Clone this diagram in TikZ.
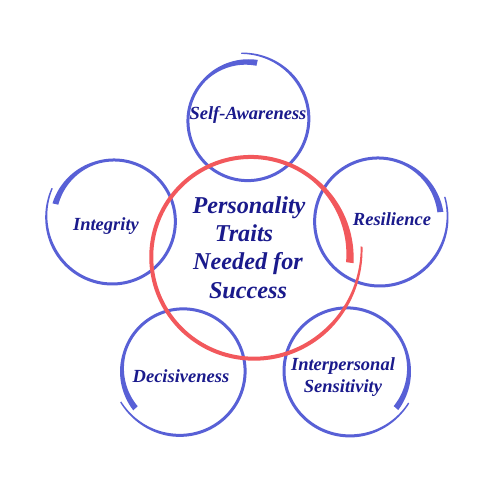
\documentclass[tikz,border=0pt]{standalone}
\usepackage{fontspec}
\setmainfont{Liberation Serif}
\definecolor{ringblue}{RGB}{88,96,214}
\definecolor{ringred}{RGB}{242,88,92}
\definecolor{navy}{RGB}{26,26,140}
% #1 cx, #2 cy, #3 R, #4 start angle, #5 signed sweep, #6 dr start, #7 dr end, #8 thick width, #9 main width
\newcommand\brushring[9]{%
  \begin{scope}[declare function={
      bang(\t)=#4+(#5)*\t;
      brad(\t)=#3+(#6)+((#7)-(#6))*\t^4;
      bw(\t)=#9+((#8)-(#9))*max(0,1-\t/0.15)-0.55*(#9)*max(0,(\t-0.86)/0.14);}]
    \fill plot[domain=0:1,samples=220,variable=\t]
      ({#1+(brad(\t)+bw(\t)/2)*cos(bang(\t))},{#2+(brad(\t)+bw(\t)/2)*sin(bang(\t))})
      -- plot[domain=1:0,samples=220,variable=\t]
      ({#1+(brad(\t)-bw(\t)/2)*cos(bang(\t))},{#2+(brad(\t)-bw(\t)/2)*sin(bang(\t))})
      -- cycle;
  \end{scope}}
\tikzset{
  lab/.style={text=navy,font=\fontsize{18.5}{22}\selectfont\bfseries\itshape,anchor=base,inner sep=0pt},
  biglab/.style={text=navy,font=\fontsize{24.2}{28}\selectfont\bfseries\itshape,anchor=base,inner sep=0pt}
}
\begin{document}
\begin{tikzpicture}[x=1pt,y=-1pt]
\fill[white] (0,0) rectangle (500,500);
\useasboundingbox (0,0) rectangle (500,500);
% blue rings
\begin{scope}[fill=ringblue]
\brushring{247}{121}{63}{-80}{-375}{-4}{5}{6}{3}
\brushring{114}{221}{66}{-164}{372}{-5}{4}{6}{3}
\brushring{378}{221}{67}{-8}{-372}{-4}{4}{6}{3}
\brushring{183}{370}{66}{141}{372}{-5}{4}{6}{3}
\brushring{347}{370}{66}{38}{-370}{-4}{4}{6}{3}
\end{scope}
% red ring
\begin{scope}[fill=ringred]
\brushring{251}{256}{100}{4}{-369}{-1}{11}{7.5}{4}
\end{scope}
% labels
\node[lab] (sa) at (248,119) {Self-Awareness};
\node[lab] (in) at (106,230) {Integrity};
\node[lab] (re) at (392,225) {Resilience};
\node[lab] (de) at (181,382) {Decisiveness};
\node[lab] (ip1) at (343,370) {Interpersonal};
\node[lab] (ip2) at (343,392) {Sensitivity};
\node[biglab] (c1) at (249,213) {Personality};
\node[biglab] (c2) at (244,241) {Traits};
\node[biglab] (c3) at (248,269) {Needed for};
\node[biglab] (c4) at (248,298) {Success};
\end{tikzpicture}
\end{document}
